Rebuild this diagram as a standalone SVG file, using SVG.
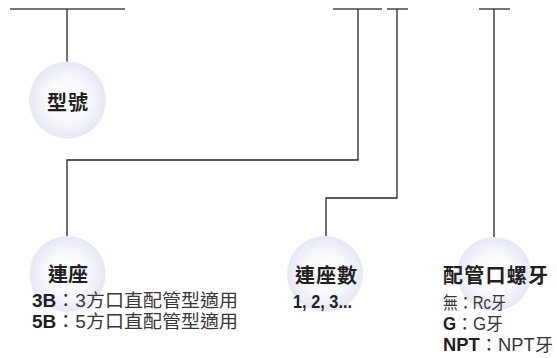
<svg xmlns="http://www.w3.org/2000/svg" width="557" height="358" viewBox="0 0 557 358">
<defs>
<radialGradient id="g" cx="50%" cy="50%" r="50%">
<stop offset="0" stop-color="#ffffff"/>
<stop offset="0.6" stop-color="#f7f8fc"/>
<stop offset="1" stop-color="#e5e8f5"/>
</radialGradient>
</defs>
<style>
.c{fill:url(#g)}
.ln{fill:none;stroke:#2a2526;stroke-width:1.3}
.tp{fill:none;stroke:#4a4546;stroke-width:1.6}
.t{font-family:"Liberation Sans","Noto Sans CJK TC",sans-serif;font-weight:bold;font-size:20px;fill:#231f20}
.s{font-family:"Liberation Sans","Noto Sans CJK TC",sans-serif;font-size:18.5px;fill:#3a3637}
.r{font-size:17.5px}
.b{font-weight:bold;fill:#231f20}
</style>
<g id="connectors">
<path class="tp" d="M10 9H125M333 9H382M387 9H408M479 9H510"/>
<path class="ln" d="M67 9V62"/>
<path class="ln" d="M358 9V160H67V237"/>
<path class="ln" d="M397 9V198H326V236"/>
<path class="ln" d="M494 9V237"/>
</g>
<g id="node-model">
<circle class="c" cx="67.5" cy="100" r="38.5"/>
<text class="t" x="47" y="110" textLength="41" font-size="21">型號</text>
</g>
<g id="node-base">
<circle class="c" cx="67.5" cy="274" r="38"/>
<text class="t" x="48" y="282" textLength="40">連座</text>
<text class="s" x="32" y="307" textLength="206" lengthAdjust="spacingAndGlyphs"><tspan class="b">3B</tspan>：3方口直配管型適用</text>
<text class="s" x="32" y="328" textLength="206" lengthAdjust="spacingAndGlyphs"><tspan class="b">5B</tspan>：5方口直配管型適用</text>
</g>
<g id="node-count">
<circle class="c" cx="325" cy="274" r="38"/>
<text class="t" x="295" y="283" textLength="62">連座數</text>
<text class="s b" x="293" y="308" font-size="16.5" textLength="59" lengthAdjust="spacingAndGlyphs">1, 2, 3...</text>
</g>
<g id="node-thread">
<circle class="c" cx="494" cy="274" r="37"/>
<text class="t" x="443" y="283" textLength="105">配管口螺牙</text>
<text class="s r" x="443" y="309" textLength="63" lengthAdjust="spacingAndGlyphs">無：Rc牙</text>
<text class="s r" x="443" y="330" textLength="60" lengthAdjust="spacingAndGlyphs"><tspan class="b">G</tspan>：G牙</text>
<text class="s r" x="443" y="351" textLength="110" lengthAdjust="spacingAndGlyphs"><tspan class="b">NPT</tspan>：NPT牙</text>
</g>
</svg>
